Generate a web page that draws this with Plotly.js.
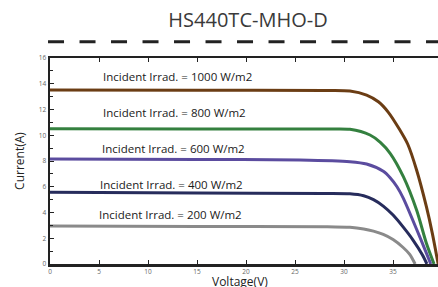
<!DOCTYPE html>
<html>
<head>
<meta charset="utf-8">
<script src="https://cdn.plot.ly/plotly-3.0.1.min.js"></script>
<style>
html,body{margin:0;padding:0;overflow:hidden;background:#fff;width:438px;height:287px;}
#chart{width:446px;height:287px;}
</style>
</head>
<body>
<div id="chart"></div>
<script>
// Irradiance levels (W/m2)
const irradiance = [1000, 800, 600, 400, 200];
const seriesColors = ['#6b3d14', '#34803f', '#5b4c9f', '#272c5c', '#8a8a8a'];
const xTitle = 'Voltage(V)';
const yTitle = 'Current(A)';
const chartTitle = 'HS440TC-MHO-D';

// I-V curves
const v1000 = [0, 15, 28, 30.6, 32.3, 33.5, 34.5, 35.7, 36.5, 37.4, 38.4, 39.0, 39.6];
const i1000 = [13.52, 13.5, 13.48, 13.44, 13.12, 12.6, 11.8, 10.4, 9.3, 7.3, 4.45, 2.4, 0];

const v800 = [0, 15, 28, 30.6, 32.65, 33.7, 34.7, 36.05, 37.4, 38.4, 39.18];
const i800 = [10.5, 10.49, 10.48, 10.46, 10.02, 9.45, 8.6, 6.78, 4.19, 1.61, 0];

const v600 = [0, 15, 25.5, 30.6, 32.3, 34.0, 34.7, 35.4, 36.05, 37.4, 38.4, 38.85];
const i600 = [8.16, 8.12, 8.08, 7.95, 7.77, 7.2, 6.7, 6.0, 5.1, 2.7, 0.85, 0];

const v400 = [0, 15, 28, 30.6, 32.0, 33.0, 34.0, 35.0, 36.0, 37.0, 38.0, 38.45];
const i400 = [5.57, 5.52, 5.48, 5.45, 5.3, 5.0, 4.5, 3.8, 2.9, 1.9, 0.7, 0];

const v200 = [0, 15, 28, 30.6, 32.0, 33.0, 34.0, 35.0, 36.0, 36.7, 37.25];
const i200 = [2.95, 2.92, 2.9, 2.85, 2.72, 2.55, 2.3, 1.9, 1.3, 0.75, 0];

const volts = [v1000, v800, v600, v400, v200];
const amps = [i1000, i800, i600, i400, i200];

const traces = irradiance.map((g, k) => ({
  type: 'scatter', mode: 'lines',
  x: volts[k], y: amps[k],
  line: {color: seriesColors[k], width: 3, shape: 'spline', smoothing: 0.8},
  hoverinfo: 'skip', showlegend: false
}));

const labelPos = [[5.2, 14.6], [5.2, 11.73], [5.1, 9.01], [4.9, 6.14], [4.8, 3.88]];
const annotations = irradiance.map((g, k) => ({
  x: labelPos[k][0], y: labelPos[k][1], xref: 'x', yref: 'y',
  xanchor: 'left', yanchor: 'middle', showarrow: false,
  text: 'Incident Irrad. = ' + g + ' W/m2',
  font: {family: 'Open Sans', size: 11.5, color: '#1a1a1a'}
}));
annotations.push({
  x: 0.48, y: -0.087, xref: 'paper', yref: 'paper', xanchor: 'center', yanchor: 'middle',
  showarrow: false, text: xTitle, font: {family: 'Open Sans', size: 12, color: '#222'}
});

const axisCommon = {
  showline: true, linewidth: 2.5, linecolor: '#222', mirror: 'ticks',
  ticks: 'inside', ticklen: 4, tickwidth: 1, tickcolor: '#222',
  showgrid: false, zeroline: false,
  tickfont: {family: 'Open Sans', size: 6.5, color: '#666'}
};

const layout = {
  width: 446, height: 287,
  margin: {l: 50, r: 0, t: 58, b: 23},
  paper_bgcolor: '#fff', plot_bgcolor: '#fff',
  title: {text: chartTitle, x: 0.5, xref: 'paper', y: 0.93, yref: 'container', yanchor: 'middle',
          font: {family: 'Open Sans', size: 20, color: '#3a3a3a'}},
  xaxis: Object.assign({}, axisCommon, {
    range: [0, 40.4], dtick: 5, tick0: 0
  }),
  yaxis: Object.assign({}, axisCommon, {
    range: [0, 16], dtick: 2, tick0: 0,
    minor: {ticks: 'inside', dtick: 1, ticklen: 3, tickcolor: '#222'},
    title: {text: yTitle, standoff: 12, font: {family: 'Open Sans', size: 12, color: '#222'}}
  }),
  shapes: [{
    type: 'line', xref: 'paper', yref: 'paper', x0: -0.005, x1: 1.0, y0: 1.079, y1: 1.079,
    line: {color: '#222', width: 3, dash: '16px,15.5px'}
  }],
  annotations: annotations
};

Plotly.newPlot('chart', traces, layout, {displayModeBar: false, staticPlot: true});
</script>
</body>
</html>
